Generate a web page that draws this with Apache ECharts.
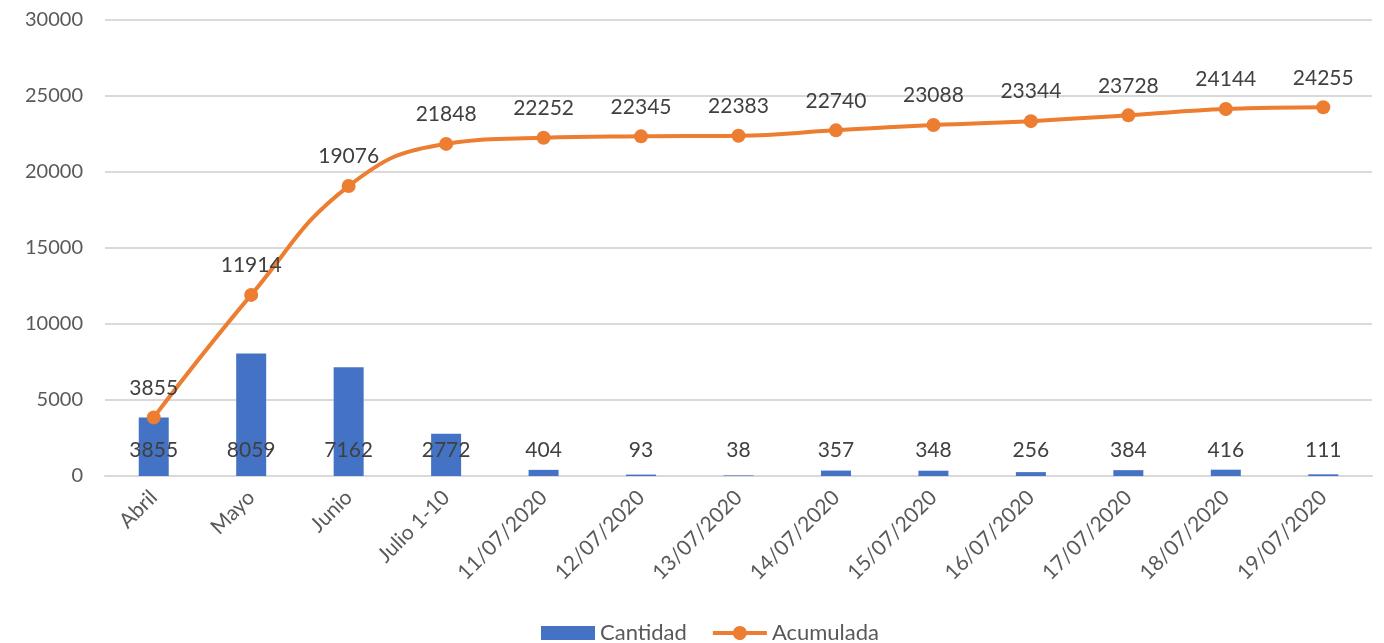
<!DOCTYPE html>
<html>
<head>
<meta charset="utf-8">
<script src="https://cdn.jsdelivr.net/npm/echarts@6/dist/echarts.min.js"></script>
<style>html,body{margin:0;padding:0;background:#fff}#c{width:1384px;height:643px}</style>
</head>
<body>
<div id="c"></div>
<script>
const categories = ['Abril','Mayo','Junio','Julio 1-10','11/07/2020','12/07/2020','13/07/2020','14/07/2020','15/07/2020','16/07/2020','17/07/2020','18/07/2020','19/07/2020'];
const cantidad = [3855,8059,7162,2772,404,93,38,357,348,256,384,416,111];
const acumulada = [3855,11914,19076,21848,22252,22345,22383,22740,23088,23344,23728,24144,24255];
const yTicks = {min:0, max:30000, interval:5000};

const chart = echarts.init(document.getElementById('c'));
const font = 'Lato, "Noto Sans", sans-serif';
const lineIcon = 'path://M0,5H20.3A7,7 0 0 1 33.7,5H54V9H33.7A7,7 0 0 1 20.3,9H0Z';
chart.setOption({
  animation:false,
  textStyle:{fontFamily:font},
  grid:{left:105, right:12, top:20, bottom:167, containLabel:false},
  legend:{
    bottom:-6, left:536, itemWidth:54, itemHeight:14, itemGap:26,
    textStyle:{fontSize:22, color:'#595959', fontFamily:font},
    data:[{name:'Cantidad', icon:'rect'}, {name:'Acumulada', icon:lineIcon}]
  },
  xAxis:{
    type:'category', data:categories,
    axisLine:{lineStyle:{color:'#d9d9d9', width:2}},
    axisTick:{show:false},
    axisLabel:{rotate:45, fontSize:21, color:'#595959', margin:18, interval:0, fontFamily:font}
  },
  yAxis:{
    type:'value', min:yTicks.min, max:yTicks.max, interval:yTicks.interval,
    axisLine:{show:false}, axisTick:{show:false},
    splitLine:{lineStyle:{color:'#d9d9d9', width:2}},
    axisLabel:{fontSize:20, color:'#595959', margin:22, fontFamily:font, formatter:function(v){return String(v);}}
  },
  series:[
    {
      name:'Cantidad', type:'bar', data:cantidad, barWidth:30,
      itemStyle:{color:'#4472C4'},
      label:{show:true, position:'insideBottom', distance:15, fontSize:21, color:'#404040', fontFamily:font}
    },
    {
      name:'Acumulada', type:'line', data:acumulada, smooth:0.45,
      symbol:'circle', symbolSize:14,
      lineStyle:{color:'#ED7D31', width:4},
      itemStyle:{color:'#ED7D31'},
      label:{show:true, position:'top', distance:12, fontSize:21, color:'#404040', fontFamily:font},
      z:5
    }
  ]
});
</script>
</body>
</html>
